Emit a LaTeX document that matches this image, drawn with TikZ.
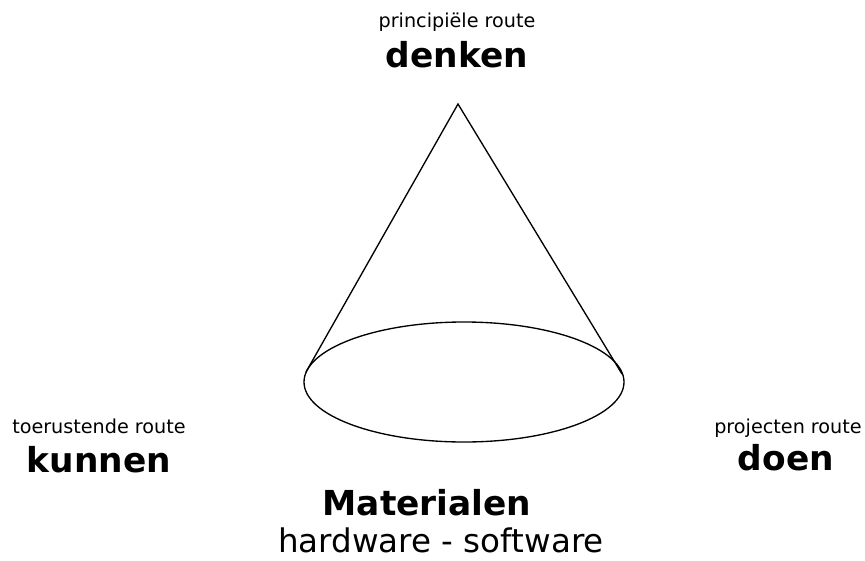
\documentclass[tikz,border=0pt]{standalone}
\usepackage{fontspec}
\setmainfont{DejaVu Sans}
\usetikzlibrary{positioning}
\tikzset{
  routelab/.style={font=\fontsize{14.4}{17}\selectfont,anchor=base},
  corelab/.style={font=\fontsize{25.8}{30}\selectfont\bfseries,anchor=base},
  sublab/.style={font=\fontsize{24.4}{29}\selectfont,anchor=base},
}
\begin{document}
\begin{tikzpicture}[x=0.75pt,y=-0.75pt]
  \useasboundingbox (0,0) rectangle (865,561);
  % cone
  \coordinate (top) at (458,104);
  \coordinate (base) at (464,382);
  \coordinate (lefttan) at (306,372);
  \coordinate (righttan) at (622,374);
  \draw[line width=1pt] (base) ellipse [x radius=160,y radius=60];
  \draw[line width=1pt] (lefttan) -- (top) -- (righttan);
  % labels
  \node[routelab] (prinroute) at (457,27) {principiële route};
  \node[corelab] (denken) at (457,67) {denken};
  \node[routelab] (toerroute) at (99,433) {toerustende route};
  \node[corelab] (kunnen) at (99,472) {kunnen};
  \node[routelab] (projroute) at (788,433) {projecten route};
  \node[corelab] (doen) at (786,470) {doen};
  \node[corelab] (mat) at (427,515) {Materialen};
  \node[sublab] (hwsw) at (441,552) {hardware - software};
\end{tikzpicture}
\end{document}
